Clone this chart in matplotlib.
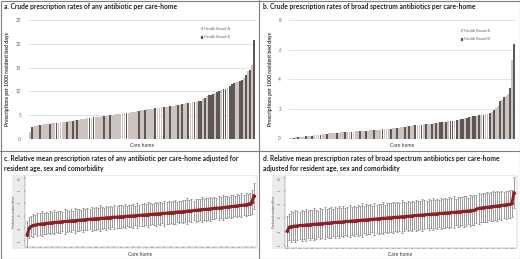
import matplotlib
matplotlib.use("Agg")
import matplotlib.pyplot as plt
from matplotlib.patches import Rectangle, Patch
import numpy as np

## Data ----------------------------------

# a. crude rate, any antibiotic (per 1000 resident bed days), sorted
rate_any = [1.5, 2.6, 2.7, 2.8, 2.9, 3.0, 3.0, 3.1, 3.1, 3.2,
            3.2, 3.3, 3.3, 3.4, 3.4, 3.5, 3.5, 3.6, 3.6, 3.7,
            3.7, 3.8, 3.9, 3.9, 4.0, 4.1, 4.2, 4.3, 4.4, 4.5,
            4.5, 4.6, 4.6, 4.7, 4.7, 4.8, 4.8, 4.9, 4.9, 5.0,
            5.0, 5.1, 5.2, 5.3, 5.3, 5.4, 5.4, 5.5, 5.5, 5.6,
            5.6, 5.7, 5.8, 5.9, 6.0, 6.0, 6.1, 6.2, 6.3, 6.3,
            6.4, 6.5, 6.5, 6.6, 6.7, 6.7, 6.8, 6.8, 6.9, 7.0,
            7.0, 7.1, 7.2, 7.2, 7.3, 7.4, 7.5, 7.6, 7.6, 7.7,
            7.7, 7.8, 7.9, 8.0, 8.3, 8.6, 9.0, 9.2, 9.3, 9.5,
            9.6, 9.8, 10.0, 10.2, 10.4, 10.5, 10.8, 11.2, 11.5, 11.7,
            11.9, 12.0, 12.1, 12.3, 12.8, 13.5, 14.2, 14.5, 15.5, 20.7]
board_any = ("ABAAABAAAA" "BAABAAAABA" "ABABAAAAAB" "ABAAAABAAB"
             "AAAAAAABAA" "AAABAABAAA" "ABAAABAABA" "AABABAABAA"
             "BABBABABBB" "ABBABBABBB" "AABBABABAB")

# b. crude rate, broad spectrum antibiotics, sorted
rate_broad = [0.02, 0.04, 0.05, 0.07, 0.08, 0.10, 0.11, 0.13, 0.15, 0.17,
              0.18, 0.20, 0.21, 0.23, 0.25, 0.27, 0.29, 0.31, 0.33, 0.35,
              0.36, 0.37, 0.38, 0.39, 0.40, 0.41, 0.42, 0.43, 0.44, 0.45,
              0.46, 0.47, 0.48, 0.49, 0.50, 0.51, 0.52, 0.53, 0.54, 0.55,
              0.56, 0.57, 0.58, 0.59, 0.60, 0.61, 0.62, 0.63, 0.64, 0.66,
              0.68, 0.70, 0.72, 0.74, 0.76, 0.78, 0.80, 0.82, 0.84, 0.86,
              0.88, 0.90, 0.91, 0.93, 0.94, 0.95, 0.96, 0.97, 0.98, 1.00,
              1.02, 1.05, 1.08, 1.10, 1.12, 1.13, 1.14, 1.15, 1.18, 1.20,
              1.22, 1.25, 1.28, 1.30, 1.33, 1.36, 1.40, 1.45, 1.48, 1.50,
              1.52, 1.55, 1.58, 1.60, 1.62, 1.65, 1.68, 1.72, 1.80, 1.90,
              2.05, 2.20, 2.50, 2.60, 2.80, 2.90, 3.00, 3.40, 5.30, 6.40]
board_broad = ("AABABAAABA" "ABAAABAABA" "AAABAAABAA" "BAAABAABAA"
               "ABAAABAAAB" "AABAAABABA" "ABAABABAAB" "ABABBABABB"
               "ABABBABBAB" "BABABAABAB" "AABABAABAB")

# c. predicted random effect, any antibiotic
re_any = [-0.75, -0.48, -0.42, -0.38, -0.36, -0.34, -0.33, -0.32, -0.31, -0.30,
          -0.29, -0.28, -0.27, -0.26, -0.25, -0.25, -0.24, -0.23, -0.22, -0.22,
          -0.21, -0.20, -0.19, -0.19, -0.18, -0.17, -0.16, -0.16, -0.15, -0.14,
          -0.13, -0.13, -0.12, -0.11, -0.11, -0.10, -0.09, -0.09, -0.08, -0.07,
          -0.07, -0.06, -0.05, -0.05, -0.04, -0.03, -0.03, -0.02, -0.01, -0.01,
          0.00, 0.00, 0.01, 0.02, 0.02, 0.03, 0.04, 0.04, 0.05, 0.06,
          0.06, 0.07, 0.08, 0.08, 0.09, 0.10, 0.10, 0.11, 0.12, 0.13,
          0.13, 0.14, 0.15, 0.16, 0.16, 0.17, 0.18, 0.19, 0.20, 0.20,
          0.21, 0.22, 0.23, 0.24, 0.25, 0.25, 0.26, 0.27, 0.28, 0.29,
          0.30, 0.31, 0.31, 0.32, 0.33, 0.34, 0.35, 0.36, 0.37, 0.38,
          0.39, 0.40, 0.41, 0.42, 0.43, 0.44, 0.46, 0.48, 0.55, 0.80]
ci_any = [0.55, 0.42, 0.40, 0.45, 0.38, 0.47, 0.43, 0.50, 0.41, 0.44,
          0.39, 0.46, 0.42, 0.48, 0.40, 0.45, 0.43, 0.37, 0.49, 0.44,
          0.41, 0.46, 0.39, 0.50, 0.43, 0.45, 0.40, 0.47, 0.42, 0.44,
          0.38, 0.48, 0.43, 0.46, 0.41, 0.52, 0.44, 0.40, 0.47, 0.43,
          0.45, 0.39, 0.49, 0.42, 0.46, 0.44, 0.41, 0.48, 0.40, 0.45,
          0.43, 0.47, 0.39, 0.50, 0.42, 0.44, 0.46, 0.41, 0.48, 0.43,
          0.40, 0.45, 0.47, 0.42, 0.44, 0.39, 0.49, 0.43, 0.46, 0.41,
          0.45, 0.48, 0.40, 0.44, 0.42, 0.47, 0.43, 0.50, 0.41, 0.45,
          0.39, 0.46, 0.44, 0.42, 0.48, 0.40, 0.45, 0.43, 0.47, 0.41,
          0.44, 0.38, 0.46, 0.42, 0.49, 0.43, 0.45, 0.40, 0.47, 0.44,
          0.41, 0.46, 0.43, 0.48, 0.40, 0.45, 0.42, 0.44, 0.47, 0.52]

# d. predicted random effect, broad spectrum antibiotics
re_broad = [-0.48, -0.33, -0.31, -0.30, -0.29, -0.28, -0.27, -0.27, -0.26, -0.25,
            -0.24, -0.24, -0.23, -0.22, -0.22, -0.21, -0.20, -0.20, -0.19, -0.18,
            -0.18, -0.17, -0.16, -0.16, -0.15, -0.14, -0.14, -0.13, -0.12, -0.12,
            -0.11, -0.10, -0.10, -0.09, -0.08, -0.08, -0.07, -0.06, -0.06, -0.05,
            -0.04, -0.04, -0.03, -0.02, -0.02, -0.01, 0.00, 0.00, 0.01, 0.02,
            0.02, 0.03, 0.04, 0.04, 0.05, 0.06, 0.06, 0.07, 0.08, 0.08,
            0.09, 0.10, 0.10, 0.11, 0.12, 0.12, 0.13, 0.14, 0.14, 0.15,
            0.16, 0.16, 0.17, 0.18, 0.18, 0.19, 0.20, 0.20, 0.21, 0.22,
            0.22, 0.23, 0.24, 0.24, 0.25, 0.26, 0.26, 0.27, 0.28, 0.29,
            0.30, 0.34, 0.37, 0.38, 0.39, 0.40, 0.41, 0.42, 0.43, 0.44,
            0.45, 0.46, 0.47, 0.48, 0.49, 0.50, 0.51, 0.52, 0.55, 0.95]
ci_broad = [0.55, 0.50, 0.58, 0.52, 0.60, 0.54, 0.49, 0.57, 0.53, 0.61,
            0.50, 0.56, 0.52, 0.59, 0.54, 0.48, 0.57, 0.53, 0.60, 0.51,
            0.55, 0.58, 0.50, 0.56, 0.53, 0.61, 0.52, 0.57, 0.49, 0.55,
            0.59, 0.53, 0.56, 0.50, 0.58, 0.54, 0.62, 0.51, 0.57, 0.53,
            0.55, 0.49, 0.59, 0.52, 0.56, 0.54, 0.60, 0.50, 0.57, 0.53,
            0.55, 0.58, 0.51, 0.56, 0.52, 0.60, 0.54, 0.49, 0.57, 0.53,
            0.56, 0.50, 0.59, 0.54, 0.52, 0.58, 0.55, 0.51, 0.57, 0.53,
            0.60, 0.52, 0.56, 0.49, 0.58, 0.54, 0.55, 0.51, 0.57, 0.53,
            0.59, 0.50, 0.56, 0.54, 0.52, 0.58, 0.55, 0.49, 0.57, 0.53,
            0.56, 0.51, 0.58, 0.52, 0.55, 0.54, 0.57, 0.50, 0.53, 0.56,
            0.52, 0.55, 0.51, 0.54, 0.50, 0.53, 0.49, 0.52, 0.50, 0.58]

board_labels = ["Health Board A", "Health Board B"]
board_colors = {"A": "#cdc4c0", "B": "#5f5656"}

## Layout helpers ------------------------

W, H = 520, 259
fig = plt.figure(figsize=(W / 100, H / 100), dpi=100)
plt.rcParams["font.family"] = ["Lato", "DejaVu Sans"]


def px_axes(x0, y0, x1, y1):
    """Axes from pixel box (top-left origin)"""
    return fig.add_axes([x0 / W, 1 - y1 / H, (x1 - x0) / W, (y1 - y0) / H])


def px_text(x, y, s, **kw):
    fig.text(x / W, 1 - y / H, s, **kw)


title_kw = dict(fontsize=4.75, fontweight="bold", color="#222222", va="center")

# Frame and panel dividers
frame = px_axes(0, 0, W, H)
frame.set_xlim(0, W)
frame.set_ylim(H, 0)
frame.axis("off")
frame.add_patch(Rectangle((0.5, 0.5), W - 1, H - 1, fill=False, ec="#7f7f7f", lw=0.8))
frame.plot([259, 259], [0, 151], color="#7f7f7f", lw=0.8)
frame.plot([0, W], [151, 151], color="#7f7f7f", lw=0.8)
frame.plot([259, 259], [151, H], color="#7f7f7f", lw=0.8)


## Bar panels ----------------------------

def bar_panel(box, values, boards, ymax, step, title, tx, leg_xy):
    ax = px_axes(*box)
    x = np.arange(len(values))
    cols = [board_colors[b] for b in boards]
    ax.bar(x, values, width=0.88, color=cols, linewidth=0)
    ax.set_xlim(-0.8, len(values) - 0.2)
    ax.set_ylim(0, ymax)
    ax.set_yticks(np.arange(0, ymax + 0.01, step))
    ax.yaxis.grid(True, color="#d9d9d9", lw=0.5)
    ax.set_axisbelow(True)
    for s in ax.spines.values():
        s.set_visible(False)
    ax.tick_params(axis="y", length=0, labelsize=3.3, labelcolor="#666666", pad=5)
    ax.set_xticks([])
    ax.set_xlabel("Care home", fontsize=3.6, color="#333333", labelpad=3)
    ax.set_ylabel("Prescriptions per 1000 resident bed days", fontsize=3.7,
                  color="#333333", fontweight="bold", labelpad=4)
    px_text(tx, 7, title, **title_kw)
    handles = [Patch(color=board_colors[k]) for k in "AB"]
    fig.legend(handles, board_labels, loc="upper left",
               bbox_to_anchor=(leg_xy[0] / W, 1 - leg_xy[1] / H),
               frameon=False, fontsize=2.8, handlelength=0.5, handleheight=0.5,
               handletextpad=0.3, labelspacing=1.2, labelcolor="#666666")
    return ax


bar_panel((28, 20, 256, 139), rate_any, board_any, 25, 5,
          "a. Crude prescription rates of any antibiotic per care-home", 4, (197, 23))
bar_panel((288, 20, 516, 138.5), rate_broad, board_broad, 8, 2,
          "b. Crude prescription rates of broad spectrum antibiotics per care-home", 263, (457, 25))


## Random effect panels ------------------

def re_panel(gbox, pbox, means, errs, ylim, title1, title2, tx):
    px_text(tx, 158, title1, **title_kw)
    px_text(tx, 168, title2, **title_kw)
    frame.add_patch(Rectangle((gbox[0], gbox[1]), gbox[2] - gbox[0], gbox[3] - gbox[1],
                              color="#ebebeb", lw=0))
    ax = px_axes(*pbox)
    x = np.arange(len(means))
    ax.errorbar(x, means, yerr=errs, fmt="none", ecolor="#8c8c8c", elinewidth=0.6,
                capsize=0.8, capthick=0.6)
    ax.plot(x, means, color="#8e1f24", lw=2.0, marker="o", ms=1.3)
    ax.set_xlim(-1, len(means))
    ax.set_ylim(*ylim)
    ax.set_yticks([-1, -0.5, 0, 0.5, 1, 1.5])
    ax.set_yticklabels(["-1", "-.5", "0", ".5", "1", "1.5"])
    ax.tick_params(axis="y", length=1, width=0.3, labelsize=2, labelcolor="#555555",
                   pad=1, labelrotation=90)
    ax.set_xticks(x[::3])
    ax.tick_params(axis="x", length=1, width=0.3, labelbottom=False)
    for s in ["top", "right"]:
        ax.spines[s].set_visible(False)
    for s in ["left", "bottom"]:
        ax.spines[s].set_linewidth(0.3)
        ax.spines[s].set_color("#777777")
    ax.set_ylabel("Predicted random effect", fontsize=2.2, color="#555555", labelpad=1.5)
    px_text((pbox[0] + pbox[2]) / 2, 255, "Care home", fontsize=3.6, color="#333333",
            ha="center", va="center")
    return ax


re_panel((12, 175, 258, 249), (25, 176, 256, 247), re_any, ci_any, (-1.24, 1.58),
         "c. Relative mean prescription rates of any antibiotic per care-home adjusted for",
         "resident age, sex and comorbidity", 4)
re_panel((272, 175, 518, 249), (285, 176, 516, 248), re_broad, ci_broad, (-1.11, 1.57),
         "d. Relative mean prescription rates of broad spectrum antibiotics per care-home",
         "adjusted for resident age, sex and comorbidity", 263)

fig.savefig("out.png", dpi=100)
